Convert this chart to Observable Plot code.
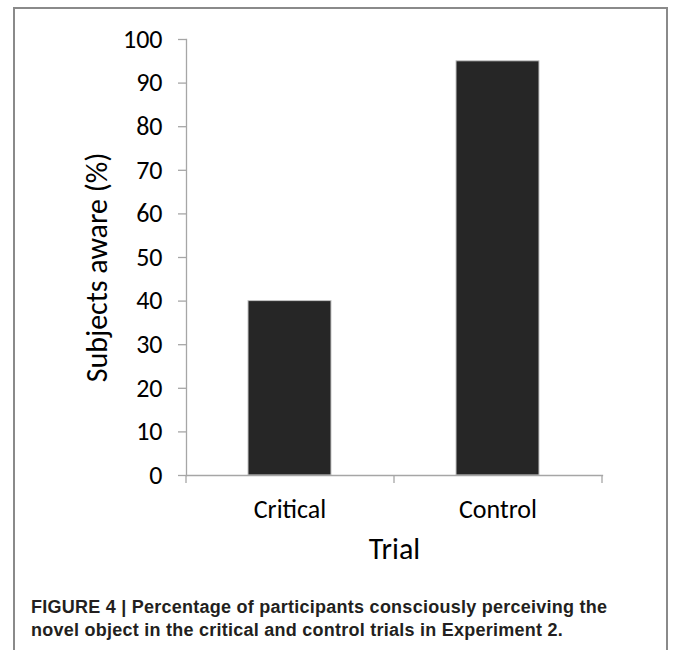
<!DOCTYPE html>
<html>
<head>
<meta charset="utf-8">
<script src="https://cdn.jsdelivr.net/npm/d3@7"></script>
<script src="https://cdn.jsdelivr.net/npm/@observablehq/plot@0.6"></script>
<style>
  html, body { margin: 0; padding: 0; background: #fff; width: 675px; height: 650px; overflow: hidden; }
  #box { position: absolute; left: 13px; top: 7px; width: 655px; height: 700px;
         border-left: 2px solid #8a8a8a; border-top: 2px solid #8a8a8a; border-right: 2px solid #8a8a8a; box-sizing: border-box; }
  #chart { position: absolute; left: 0; top: 0; }
  #caption { position: absolute; left: 31px; top: 596px; width: 630px;
             font-family: "Liberation Sans", Arial, sans-serif;
             font-weight: bold; font-size: 18px; letter-spacing: 0.25px; line-height: 23px; color: #231f20; white-space: nowrap; }
</style>
</head>
<body>
<div id="box"></div>
<div id="chart"></div>
<div id="caption">FIGURE 4 | Percentage of participants consciously perceiving the<br>novel object in the critical and control trials in Experiment 2.</div>
<script>
const categories = ["Critical", "Control"];
const values = [40, 95];
const yTicks = [0, 10, 20, 30, 40, 50, 60, 70, 80, 90, 100];
const yTitle = "Subjects aware (%)";
const xTitle = "Trial";

const data = categories.map((c, i) => ({trial: c, value: values[i]}));

const W = 675, H = 580, mL = 186, mR = 73, mT = 39, mB = H - 475;
const step = (W - mL - mR) / categories.length;
const tickLen = 8;
const boundaries = categories.map((c) => ({trial: c, dx: -step / 2}))
  .concat([{trial: categories[categories.length - 1], dx: step / 2}]);

const font = "Carlito, Lato, 'Open Sans', sans-serif";
const axisGray = "#a6a6a6";

const chart = Plot.plot({
  width: W, height: H,
  marginLeft: mL, marginRight: mR, marginTop: mT, marginBottom: mB,
  style: {fontFamily: font, background: "transparent", overflow: "visible"},
  x: {domain: categories, paddingInner: 0.6, paddingOuter: 0.3, label: null},
  y: {domain: [0, 100], label: null},
  marks: [
    Plot.barY(data, {x: "trial", y: "value", fill: "#262626", stroke: "#c4c4c4", strokeWidth: 1}),
    Plot.frame({anchor: "left", stroke: axisGray, strokeWidth: 1.3}),
    Plot.frame({anchor: "bottom", stroke: axisGray, strokeWidth: 1.3}),
    Plot.axisY({ticks: yTicks, tickSize: tickLen, tickPadding: 16, fontSize: 26, stroke: axisGray, strokeWidth: 1.3, fill: "#000", label: null}),
    Plot.axisX({tickSize: 0, tickPadding: 24, fontSize: 26, fill: "#000", label: null}),
    ...boundaries.map(b => Plot.ruleX([b], {x: "trial", dx: b.dx, dy: tickLen, insetTop: H - mT - mB - tickLen, stroke: axisGray, strokeWidth: 1.3})),
    Plot.text([yTitle], {frameAnchor: "left", textAnchor: "middle", rotate: -90, dx: -89, dy: 10, fontSize: 30, fill: "#000"}),
    Plot.text([xTitle], {frameAnchor: "bottom", lineAnchor: "bottom", dy: 83, fontSize: 30, fill: "#000"})
  ]
});
document.getElementById("chart").appendChild(chart);
</script>
</body>
</html>
